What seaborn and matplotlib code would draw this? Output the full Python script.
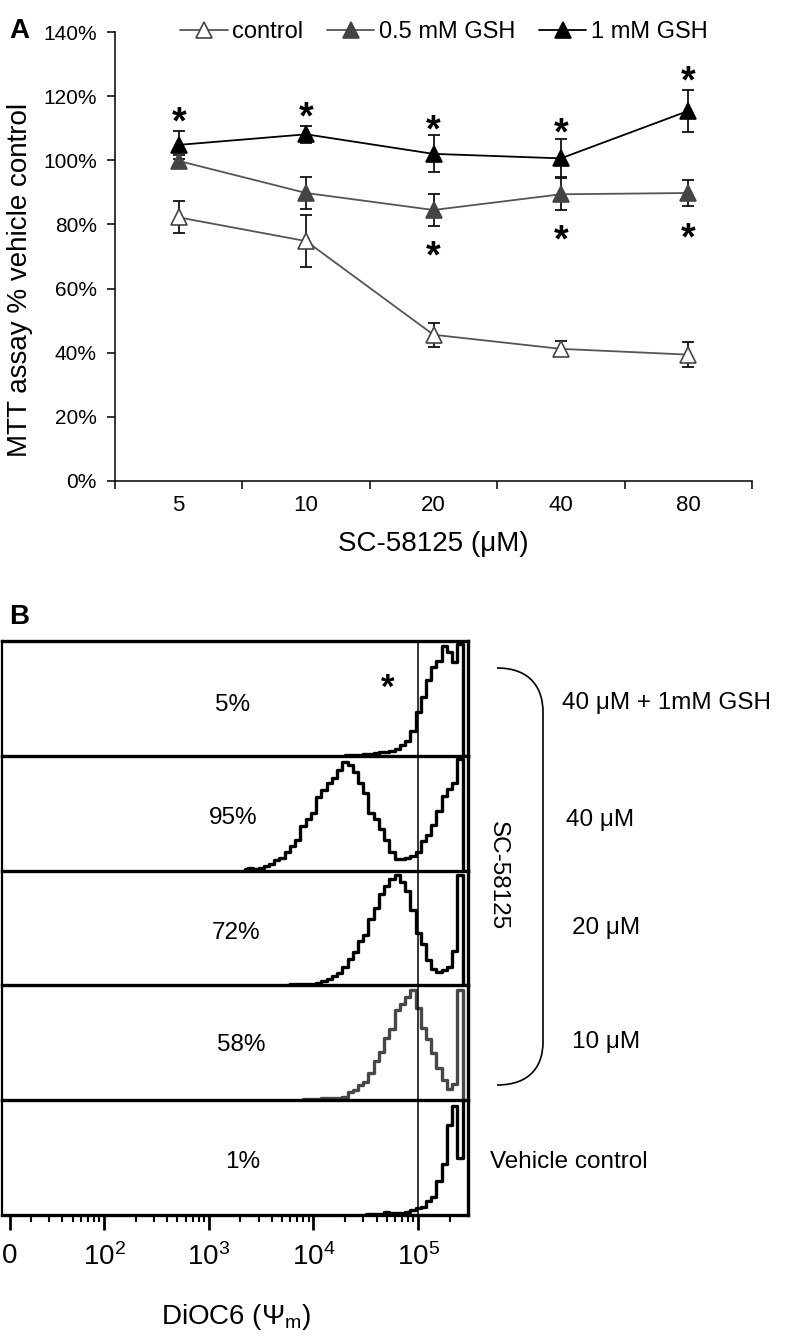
import numpy as np
import pandas as pd
import matplotlib
matplotlib.use("Agg")
import matplotlib.pyplot as plt
from matplotlib.lines import Line2D
from matplotlib.path import Path
from matplotlib.patches import PathPatch
import seaborn as sns

# ---- panel A: MTT assay (% of vehicle control) ----
conc_labels = ["5", "10", "20", "40", "80"]
series_names = ["control", "0.5 mM GSH", "1 mM GSH"]
control_mean = [82.2, 74.8, 45.6, 41.2, 39.4]
control_err = [5.0, 8.0, 3.8, 2.3, 3.9]
gsh05_mean = [99.8, 89.8, 84.5, 89.4, 89.8]
gsh05_err = [1.8, 5.0, 5.0, 5.0, 4.2]
gsh1_mean = [104.8, 108.1, 102.0, 100.6, 115.4]
gsh1_err = [4.3, 2.6, 5.8, 5.9, 6.6]
# significance stars
star_top_conc = ["5", "10", "20", "40", "80"]
star_top_y = [114.8, 116.5, 112.6, 111.5, 127.6]
star_low_conc = ["20", "40", "80"]
star_low_y = [73.1, 78.3, 78.8]

# ---- panel B: DiOC6 histograms (log10 fluorescence bins, 0.05 decade) ----
bin_width = 0.05
lane_names = ["40 \u03bcM + 1mM GSH", "40 \u03bcM", "20 \u03bcM", "10 \u03bcM", "Vehicle control"]
lane_pct = ["5%", "95%", "72%", "58%", "1%"]
lane_start = [4.30, 3.35, 3.75, 3.90, 4.50]
hist_40_gsh = [0.005, 0.01, 0.01, 0.01, 0.015, 0.02, 0.025, 0.03, 0.035, 0.045,
               0.06, 0.09, 0.13, 0.22, 0.38, 0.51, 0.66, 0.77, 0.83, 0.96,
               0.90, 0.82, 0.97, 0.0]
hist_40 = [0.01, 0.02, 0.015, 0.02, 0.04, 0.06, 0.09, 0.11, 0.16, 0.21,
           0.27, 0.39, 0.45, 0.50, 0.64, 0.70, 0.76, 0.81, 0.88, 0.95,
           0.92, 0.86, 0.76, 0.68, 0.50, 0.45, 0.36, 0.27, 0.16, 0.10,
           0.10, 0.11, 0.13, 0.16, 0.26, 0.31, 0.40, 0.52, 0.65, 0.71,
           0.76, 0.97, 0.0]
hist_20 = [0.005, 0.01, 0.015, 0.01, 0.01, 0.01, 0.02, 0.04, 0.06, 0.08,
           0.11, 0.16, 0.23, 0.29, 0.39, 0.44, 0.58, 0.67, 0.80, 0.87,
           0.93, 0.96, 0.90, 0.82, 0.66, 0.46, 0.36, 0.22, 0.14, 0.12,
           0.13, 0.16, 0.30, 0.96, 0.0]
hist_10 = [0.01, 0.01, 0.01, 0.01, 0.015, 0.015, 0.02, 0.02, 0.03, 0.07,
           0.09, 0.13, 0.16, 0.24, 0.34, 0.42, 0.54, 0.62, 0.79, 0.84,
           0.90, 0.96, 0.80, 0.63, 0.53, 0.41, 0.28, 0.18, 0.10, 0.14,
           0.96, 0.0]
hist_vehicle = [0.01, 0.01, 0.01, 0.01, 0.03, 0.015, 0.02, 0.015, 0.03, 0.04,
                0.06, 0.07, 0.12, 0.16, 0.30, 0.44, 0.78, 0.95, 0.5, 1.0]
lane_hists = [hist_40_gsh, hist_40, hist_20, hist_10, hist_vehicle]
lane_colors = ["black", "black", "black", "#474747", "black"]
gate_log = 5.0
decade_ticks = [1.1, 2, 3, 4, 5]
decade_labels = ["0", "$10^{2}$", "$10^{3}$", "$10^{4}$", "$10^{5}$"]

sns.set_style("ticks")
plt.rcParams["font.family"] = ["Liberation Sans", "DejaVu Sans"]
plt.rcParams["mathtext.fontset"] = "custom"
plt.rcParams["mathtext.rm"] = "Liberation Sans"
plt.rcParams["mathtext.it"] = "Liberation Sans:italic"
plt.rcParams["mathtext.bf"] = "Liberation Sans:bold"
for key in ["text.color", "axes.labelcolor", "xtick.color", "ytick.color", "axes.edgecolor"]:
    plt.rcParams[key] = "black"

W, H = 786, 1338
fig = plt.figure(figsize=(W / 100, H / 100), dpi=100)


def fx(x):
    return x / W


def fy(y):
    return 1 - y / H


# ================= panel A =================
ax = fig.add_axes([fx(115), fy(481), 637 / W, 449 / H])
xpos = np.arange(len(conc_labels))
styles = [
    (control_mean, control_err, "#555555", "white", "#444444"),
    (gsh05_mean, gsh05_err, "#555555", "#444444", "#444444"),
    (gsh1_mean, gsh1_err, "black", "black", "black"),
]
handles = []
for (means, errs, lc, mfc, mec), name in zip(styles, series_names):
    ax.errorbar(xpos, means, yerr=errs, fmt="none", ecolor="#111111",
                elinewidth=1.3, capsize=4, capthick=1.3, zorder=1.5)
    df = pd.DataFrame({"x": xpos, "y": means})
    sns.lineplot(data=df, x="x", y="y", ax=ax, color=lc, lw=1.3, marker="^",
                 markersize=11, markerfacecolor=mfc, markeredgecolor=mec,
                 markeredgewidth=1.2, legend=False)
    handles.append(Line2D([], [], color=lc, lw=1.3, marker="^", markersize=11,
                          markerfacecolor=mfc, markeredgecolor=mec, markeredgewidth=1.2))

for c, y in zip(star_top_conc, star_top_y):
    ax.annotate("*", (conc_labels.index(c), y), xytext=(0, -8), textcoords="offset points",
                ha="center", va="center", fontsize=27, fontweight="bold")
for c, y in zip(star_low_conc, star_low_y):
    ax.annotate("*", (conc_labels.index(c), y), xytext=(0, -8), textcoords="offset points",
                ha="center", va="center", fontsize=27, fontweight="bold")

ax.set_xlim(-0.5, len(conc_labels) - 0.5)
ax.set_ylim(0, 140)
ax.set_yticks(range(0, 141, 20))
ax.set_yticklabels([f"{v}%" for v in range(0, 141, 20)])
ax.set_xticks(np.arange(len(conc_labels) + 1) - 0.5)
ax.set_xticklabels([])
ax.set_xticks(xpos, minor=True)
ax.set_xticklabels(conc_labels, minor=True)
ax.tick_params(axis="x", which="major", direction="out", length=6, width=1.1)
ax.tick_params(axis="x", which="minor", length=0, pad=10, labelsize=16)
ax.tick_params(axis="y", direction="out", length=6, width=1.1, pad=7, labelsize=15)
for s in ["top", "right"]:
    ax.spines[s].set_visible(False)
for s in ["left", "bottom"]:
    ax.spines[s].set_linewidth(1.1)

ax.set_xlabel("SC-58125 (\u03bcM)", fontsize=20)
ax.xaxis.set_label_coords(0.5, (481 - 544) / 449)
ax.xaxis.label.set_va("center")
ax.set_ylabel("MTT assay % vehicle control", fontsize=20)
ax.yaxis.set_label_coords((20 - 115) / 637, (481 - 280) / 449)
ax.yaxis.label.set_va("center")

fig.legend(handles, series_names, loc="center", bbox_to_anchor=(fx(444), fy(32)),
           ncol=3, frameon=False, fontsize=17, handlelength=2.0,
           handletextpad=0.2, columnspacing=1.0, borderaxespad=0)

fig.text(fx(9), fy(31), "A", fontsize=20, fontweight="bold", ha="left", va="center")
fig.text(fx(9), fy(617), "B", fontsize=20, fontweight="bold", ha="left", va="center")

# ================= panel B =================
lane_top = 641
lane_h = 114.8
xmin, xmax = 1.02, 5.476
minor_locs = [np.log10(m * 10 ** d) for d in range(1, 6) for m in range(2, 10)]
minor_locs = [v for v in minor_locs if xmin < v < xmax]
pct_x = [0.496, 0.496, 0.502, 0.515, 0.517]
pct_y = [0.44, 0.46, 0.46, 0.48, 0.46]
n = len(lane_hists)
for i, (h, start, col) in enumerate(zip(lane_hists, lane_start, lane_colors)):
    top = lane_top + i * lane_h
    lax = fig.add_axes([fx(1.5), fy(top + lane_h), 466.5 / W, lane_h / H])
    lax.patch.set_visible(False)
    xs = start + bin_width * np.arange(len(h))
    sns.lineplot(x=xs, y=h, ax=lax, color=col, lw=2.4, drawstyle="steps-mid",
                 estimator=None, legend=False)
    lax.axvline(gate_log, color="black", lw=1.1)
    lax.set_xlim(xmin, xmax)
    lax.set_ylim(0, 1.0)
    lax.set_ylabel("")
    lax.set_xlabel("")
    lax.set_yticks([])
    lax.spines["top"].set_visible(i == 0)
    lax.spines["top"].set_linewidth(2.4)
    lax.spines["right"].set_linewidth(2.4)
    lax.spines["left"].set_linewidth(1.6)
    lax.spines["bottom"].set_linewidth(2.4)
    lax.text(pct_x[i], pct_y[i], lane_pct[i], transform=lax.transAxes,
             ha="center", va="center", fontsize=17.5)
    if i == 0:
        lax.annotate("*", (4.71, 0.67), xytext=(0, -7), textcoords="offset points",
                     ha="center", va="center", fontsize=25, fontweight="bold")
    if i < n - 1:
        lax.set_xticks([])
    else:
        lax.set_xticks(decade_ticks)
        lax.set_xticklabels(decade_labels)
        lax.set_xticks(minor_locs, minor=True)
        lax.tick_params(axis="x", which="major", direction="out", length=11, width=2,
                        labelsize=20, pad=9)
        lax.tick_params(axis="x", which="minor", direction="out", length=5, width=1.5)
        for lbl in lax.get_xticklabels():
            lbl.set_va("top")

fig.text(fx(236), fy(1317), r"DiOC6 ($\Psi_{\mathrm{m}}$)", ha="center", va="center", fontsize=20)

# right-hand labels
right_lbl_x = [562, 566, 572, 572, 490]
right_lbl_y = [703, 820, 928, 1042, 1162]
for name, x, y in zip(lane_names, right_lbl_x, right_lbl_y):
    fig.text(fx(x), fy(y), name, ha="left", va="center", fontsize=17.5)
fig.text(fx(498), fy(876), "SC-58125", rotation=270, ha="center", va="center", fontsize=17.5)

# bracket grouping the SC-58125 treatments
verts = [(fx(497), fy(668)), (fx(532), fy(668)), (fx(543), fy(690)), (fx(543), fy(712)),
         (fx(543), fy(1042)), (fx(543), fy(1064)), (fx(532), fy(1085)), (fx(497), fy(1085))]
codes = [Path.MOVETO, Path.CURVE4, Path.CURVE4, Path.CURVE4,
         Path.LINETO, Path.CURVE4, Path.CURVE4, Path.CURVE4]
fig.add_artist(PathPatch(Path(verts, codes), fill=False, lw=1.2, color="black",
                         transform=fig.transFigure))

fig.savefig("out.png", dpi=100)
